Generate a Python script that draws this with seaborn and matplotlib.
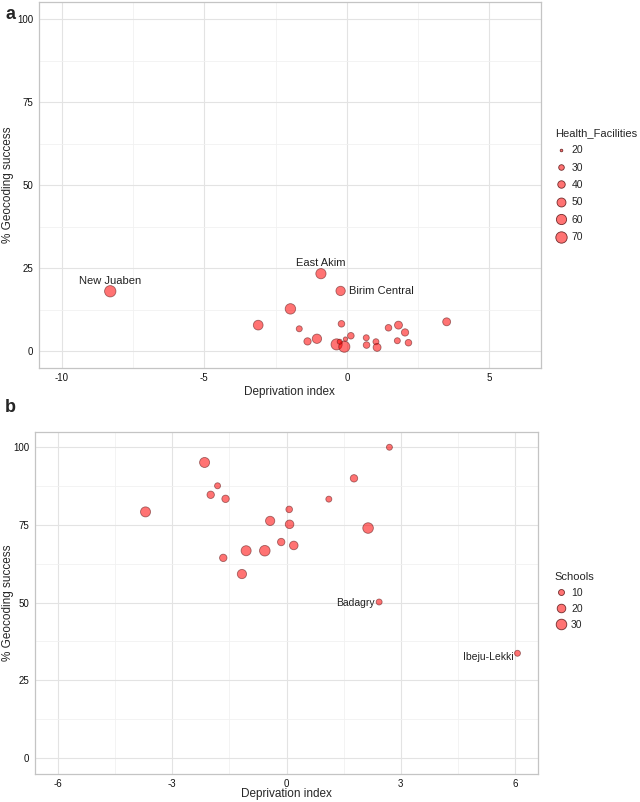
import numpy as np
import pandas as pd
import matplotlib
matplotlib.use("Agg")
import matplotlib.pyplot as plt
from matplotlib.lines import Line2D
import seaborn as sns

# ---------------- Panel a: Ghana districts ----------------
ghana_district = ["New Juaben", "East Akim", "Birim Central", "", "", "", "", "", "", "",
                  "", "", "", "", "", "", "", "", "", "", "", "", "", ""]
ghana_depriv = [-8.30, -0.91, -0.22, -3.11, -1.98, -1.67, -1.38, -1.05, -0.19, -0.36,
                -0.09, -0.25, -0.05, 0.14, 0.68, 0.69, 1.02, 1.06, 1.46, 1.81,
                2.04, 1.77, 2.16, 3.50]
ghana_geocode = [18.0, 23.3, 18.1, 7.8, 12.7, 6.7, 2.9, 3.7, 8.2, 2.0,
                 1.3, 2.8, 3.6, 4.6, 4.0, 1.8, 2.8, 1.1, 7.0, 7.8,
                 5.6, 3.1, 2.5, 8.8]
ghana_facilities = [72, 60, 53, 56, 62, 32, 39, 53, 35, 68,
                    68, 28, 25, 35, 32, 35, 32, 43, 35, 43,
                    39, 32, 35, 43]
facility_breaks = [20, 30, 40, 50, 60, 70]

# ---------------- Panel b: Lagos LGAs ----------------
lagos_lga = ["", "", "", "", "", "", "", "", "", "",
             "", "", "", "", "", "", "", "", "Badagry", "Ibeju-Lekki"]
lagos_depriv = [-2.15, -1.81, -1.99, -1.60, -3.70, 0.07, 1.11, -0.43, 0.08, -0.14,
                0.19, -0.57, -1.06, -1.66, -1.17, 2.70, 1.77, 2.14, 2.43, 6.06]
lagos_geocode = [95.1, 87.6, 84.7, 83.4, 79.2, 80.0, 83.3, 76.3, 75.2, 69.5,
                 68.4, 66.7, 66.7, 64.4, 59.2, 100.0, 90.0, 74.0, 50.2, 33.7]
lagos_schools = [27, 10, 15, 15, 27, 12, 8, 23, 20, 15,
                 20, 33, 27, 15, 23, 4, 15, 30, 8, 1]
school_breaks = [10, 20, 30]

df_a = pd.DataFrame({"district": ghana_district, "x": ghana_depriv,
                     "y": ghana_geocode, "Health_Facilities": ghana_facilities})
df_b = pd.DataFrame({"lga": lagos_lga, "x": lagos_depriv,
                     "y": lagos_geocode, "Schools": lagos_schools})

FILL = (1.0, 0.0, 0.0, 0.55)
EDGE = (0.35, 0.08, 0.08, 0.85)
GRID_MAJOR = "#E3E3E3"
GRID_MINOR = "#F1F1F1"
FRAME = "#C4C4C4"

sns.set_style("white")
plt.rcParams["font.family"] = ["Liberation Sans", "DejaVu Sans"]
plt.rcParams["axes.unicode_minus"] = False

fig = plt.figure(figsize=(6.4, 8.02), dpi=100)
ax_a = fig.add_axes([0.0609, 0.5416, 0.784, 0.4554])
ax_b = fig.add_axes([0.0547, 0.0355, 0.786, 0.4262])


def style_axes(ax, xlim, xticks, xminor, ylab_x, xlab_y):
    ax.set_xlim(*xlim)
    ax.set_ylim(-5, 105)
    ax.set_xticks(xticks)
    ax.set_xticks(xminor, minor=True)
    ax.set_yticks([0, 25, 50, 75, 100])
    ax.set_yticks([12.5, 37.5, 62.5, 87.5], minor=True)
    ax.grid(True, which="major", color=GRID_MAJOR, linewidth=0.8)
    ax.grid(True, which="minor", color=GRID_MINOR, linewidth=0.6)
    ax.set_axisbelow(True)
    for s in ax.spines.values():
        s.set_color(FRAME)
        s.set_linewidth(0.9)
    ax.tick_params(which="major", length=2.5, width=0.6, color=FRAME,
                   labelsize=7, labelcolor="#111111", pad=1.5)
    ax.tick_params(which="minor", length=0)
    ax.set_xlabel("Deprivation index", fontsize=8.5, va="center")
    ax.set_ylabel("% Geocoding success", fontsize=8.5, va="center")
    ax.xaxis.set_label_coords(0.5, xlab_y)
    ax.yaxis.set_label_coords(ylab_x, 0.5)


def size_legend(ax, breaks, smin, smax, vmin, vmax, title, anchor, spacing):
    handles = []
    for b in breaks:
        s = smin + (b - vmin) / (vmax - vmin) * (smax - smin)
        handles.append(Line2D([], [], marker="o", linestyle="",
                              markersize=np.sqrt(s), markerfacecolor=FILL,
                              markeredgecolor=EDGE, markeredgewidth=0.6,
                              label=str(b)))
    leg = ax.legend(handles=handles, title=title, loc="center left",
                    bbox_to_anchor=anchor, frameon=False,
                    fontsize=7.5, title_fontsize=8, labelspacing=spacing,
                    handletextpad=0.4, handlelength=1.2, borderaxespad=0)
    leg._legend_box.align = "left"


# ------------------ Panel a ------------------
sns.scatterplot(data=df_a, x="x", y="y", size="Health_Facilities",
                sizes=(3.5, 67), size_norm=(20, 70), color=FILL[:3], alpha=0.55,
                edgecolor=EDGE, linewidth=0.6, legend=False, ax=ax_a)
style_axes(ax_a, (-10.8, 6.8), [-10, -5, 0, 5], [-7.5, -2.5, 2.5], -0.062, -0.067)
size_legend(ax_a, facility_breaks, 3.5, 67, 20, 70, "Health_Facilities",
            (1.02, 0.50), 0.71)

for _, r in df_a[df_a["district"] != ""].iterrows():
    if r["district"] == "Birim Central":
        ax_a.annotate(r["district"], (r["x"], r["y"]), xytext=(6, 0),
                      textcoords="offset points", ha="left", va="center",
                      fontsize=8, color="#222222")
    else:
        ax_a.annotate(r["district"], (r["x"], r["y"]), xytext=(0, 7.5),
                      textcoords="offset points", ha="center", va="center",
                      fontsize=8, color="#222222")

# ------------------ Panel b ------------------
sns.scatterplot(data=df_b, x="x", y="y", size="Schools",
                sizes=(18.6, 58.2), size_norm=(10, 30), color=FILL[:3], alpha=0.55,
                edgecolor=EDGE, linewidth=0.6, legend=False, ax=ax_b)
style_axes(ax_b, (-6.6, 6.6), [-6, -3, 0, 3, 6], [-4.5, -1.5, 1.5, 4.5], -0.054, -0.06)
size_legend(ax_b, school_breaks, 18.6, 58.2, 10, 30, "Schools",
            (1.024, 0.505), 0.58)

for _, r in df_b[df_b["lga"] != ""].iterrows():
    dy = -2.5 if r["lga"] == "Ibeju-Lekki" else -0.5
    ax_b.annotate(r["lga"], (r["x"], r["y"]), xytext=(-3, dy),
                  textcoords="offset points", ha="right", va="center",
                  fontsize=7.5, color="#222222")

fig.text(0.008, 0.993, "a", fontsize=13, fontweight="bold", va="top", ha="left")
fig.text(0.008, 0.502, "b", fontsize=13, fontweight="bold", va="top", ha="left")

fig.savefig("out.png", dpi=100)
